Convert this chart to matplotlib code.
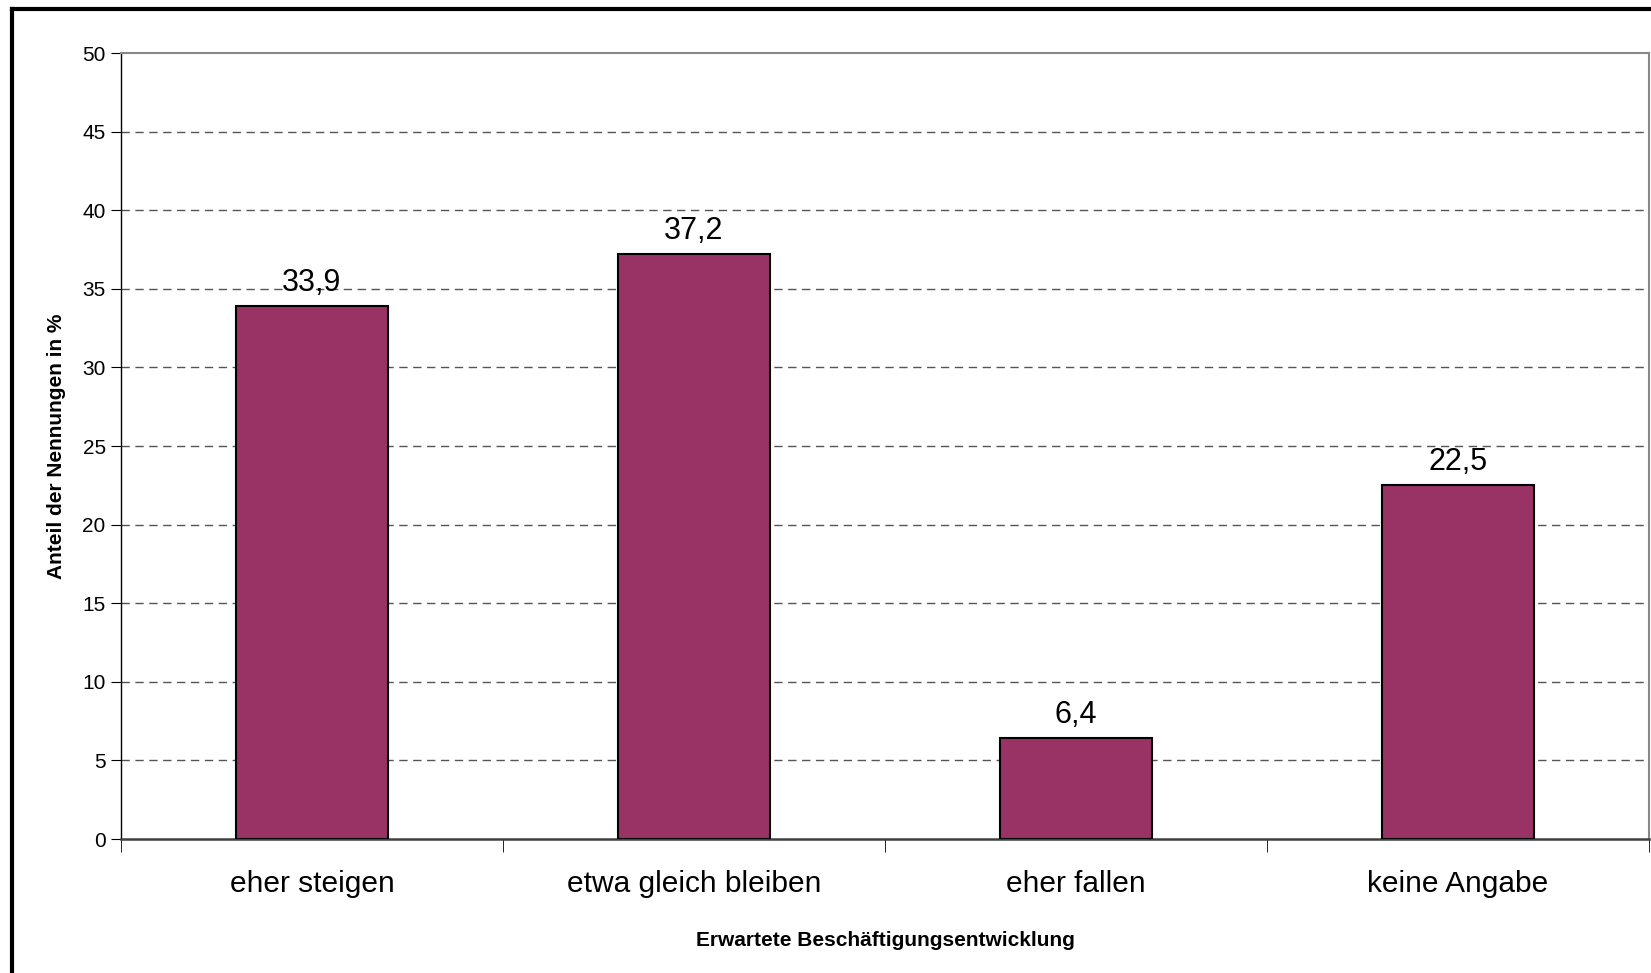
import matplotlib.pyplot as plt
from matplotlib.lines import Line2D

plt.rcParams['font.family'] = ['Liberation Sans', 'DejaVu Sans']

categories = ["eher steigen", "etwa gleich bleiben", "eher fallen", "keine Angabe"]
values = [33.9, 37.2, 6.4, 22.5]
yticks = [0, 5, 10, 15, 20, 25, 30, 35, 40, 45, 50]

fig = plt.figure(figsize=(16.51, 9.73), dpi=100)
ax = fig.add_axes([0.0733, 0.1377, 0.9255, 0.8078])

x = list(range(len(categories)))
bars = ax.bar(x, values, width=0.4, color="#993366", edgecolor="black",
              linewidth=1.5, zorder=3)
ax.bar_label(bars, labels=[f"{v:.1f}".replace(".", ",") for v in values],
             padding=6, fontsize=22)

ax.set_xlim(-0.5, len(categories) - 0.5)
ax.set_ylim(0, 50)
ax.set_yticks(yticks)
ax.tick_params(axis="y", labelsize=15, length=7, color="black", pad=4)

ax.set_xticks(x)
ax.set_xticklabels(categories, fontsize=21.5)
ax.tick_params(axis="x", which="major", length=0, pad=22)
ax.set_xticks([i - 0.5 for i in range(len(categories) + 1)], minor=True)
ax.tick_params(axis="x", which="minor", length=9, color="black")

for y in yticks[1:-1]:
    ax.axhline(y, color="#555555", linewidth=1, dashes=(6, 4), zorder=1)

ax.spines["left"].set_color("black")
ax.spines["left"].set_linewidth(1)
ax.spines["top"].set_color("#888888")
ax.spines["top"].set_linewidth(1.5)
ax.spines["right"].set_color("#888888")
ax.spines["right"].set_linewidth(1.5)
ax.spines["bottom"].set_color("#404040")
ax.spines["bottom"].set_linewidth(1.8)

ax.set_ylabel("Anteil der Nennungen in %", fontsize=15, fontweight="bold", labelpad=12)
ax.set_xlabel("Erwartete Beschäftigungsentwicklung", fontsize=15, fontweight="bold", labelpad=24)

# outer frame (only left and top visible)
fig.add_artist(Line2D([12 / 1651, 12 / 1651], [-0.1, 1 - 8.5 / 973],
                      transform=fig.transFigure, color="black", linewidth=3))
fig.add_artist(Line2D([12 / 1651, 1.1], [1 - 8.5 / 973, 1 - 8.5 / 973],
                      transform=fig.transFigure, color="black", linewidth=3))

plt.savefig("out.png", dpi=100)
